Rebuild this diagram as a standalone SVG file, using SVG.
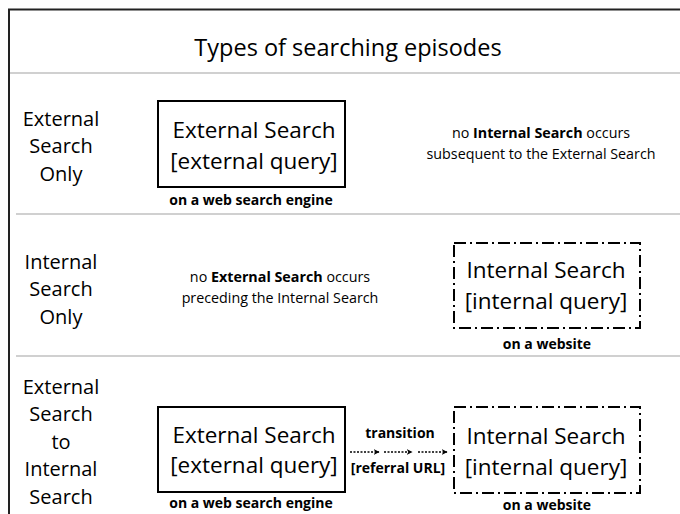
<svg xmlns="http://www.w3.org/2000/svg" width="680" height="514" viewBox="0 0 680 514">
<defs>
<style>
text{font-family:"Open Sans","Liberation Sans",sans-serif;fill:#000;text-anchor:middle}
.title{font-size:23.5px}
.lbl{font-size:20px}
.box{font-size:22.5px}
.cap{font-size:14px;font-weight:bold}
.note{font-size:14.3px}
.solid{fill:#fff;stroke:#000;stroke-width:2}
.dd{fill:#fff;stroke:#000;stroke-width:2;stroke-dasharray:12 4 2 4}
.sep{stroke:#c0c0c0;stroke-width:1.5}
.arr{stroke:#000;stroke-width:1.5;stroke-dasharray:2 1.5;fill:none}
</style>
<marker id="ah" viewBox="0 0 10 10" refX="9" refY="5" markerWidth="6" markerHeight="6" orient="auto" markerUnits="userSpaceOnUse">
<path d="M0,0 L10,5 L0,10 L3,5 z" fill="#000"/>
</marker>
</defs>
<rect width="680" height="514" fill="#fff"/>
<g id="frame">
<path d="M9,520 V9.5 H690" fill="none" stroke="#222" stroke-width="2"/>
<line class="sep" x1="10" y1="73" x2="680" y2="73"/>
<line class="sep" x1="16" y1="214" x2="680" y2="214"/>
<line class="sep" x1="16" y1="356" x2="680" y2="356"/>
<text class="title" x="348" y="56">Types of searching episodes</text>
</g>
<g id="row1-label">
<text class="lbl" x="61" y="126">External</text>
<text class="lbl" x="61" y="153">Search</text>
<text class="lbl" x="61" y="181">Only</text>
</g>
<g id="row2-label">
<text class="lbl" x="61" y="269">Internal</text>
<text class="lbl" x="61" y="296">Search</text>
<text class="lbl" x="61" y="324">Only</text>
</g>
<g id="row3-label">
<text class="lbl" x="61" y="394">External</text>
<text class="lbl" x="61" y="421">Search</text>
<text class="lbl" x="61" y="449">to</text>
<text class="lbl" x="61" y="476">Internal</text>
<text class="lbl" x="61" y="504">Search</text>
</g>
<g id="ext1">
<rect class="solid" x="158" y="101" width="187" height="86"/>
<text class="box" x="254" y="138">External Search</text>
<text class="box" x="254" y="169">[external query]</text>
<text class="cap" x="251" y="205">on a web search engine</text>
</g>
<g id="note1">
<text class="note" x="541" y="138">no <tspan font-weight="bold">Internal Search</tspan> occurs</text>
<text class="note" x="541" y="159">subsequent to the External Search</text>
</g>
<g id="note2">
<text class="note" x="280" y="282">no <tspan font-weight="bold">External Search</tspan> occurs</text>
<text class="note" x="280" y="303">preceding the Internal Search</text>
</g>
<g id="int2">
<rect class="dd" x="454" y="243" width="186" height="85"/>
<text class="box" x="546" y="278">Internal Search</text>
<text class="box" x="546" y="309">[internal query]</text>
<text class="cap" x="547" y="349">on a website</text>
</g>
<g id="ext3">
<rect class="solid" x="158" y="407" width="187" height="85"/>
<text class="box" x="254" y="443">External Search</text>
<text class="box" x="254" y="473">[external query]</text>
<text class="cap" x="251" y="508">on a web search engine</text>
</g>
<g id="int3">
<rect class="dd" x="454" y="407" width="186" height="86"/>
<text class="box" x="546" y="444">Internal Search</text>
<text class="box" x="546" y="475">[internal query]</text>
<text class="cap" x="547" y="510">on a website</text>
</g>
<g id="connectors">
<line class="arr" x1="350" y1="452" x2="379" y2="452" marker-end="url(#ah)"/>
<line class="arr" x1="384" y1="452" x2="412" y2="452" marker-end="url(#ah)"/>
<line class="arr" x1="418" y1="452" x2="447" y2="452" marker-end="url(#ah)"/>
<text class="cap" x="400" y="438">transition</text>
<text class="cap" x="398" y="473">[referral URL]</text>
</g>
</svg>
